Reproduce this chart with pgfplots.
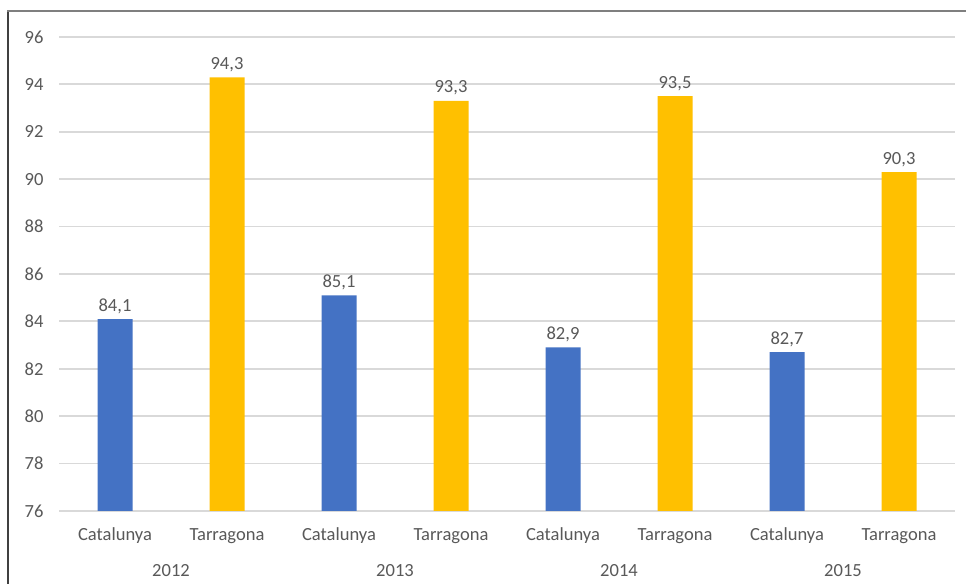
\documentclass[border=0pt]{standalone}
\usepackage{fontspec}
\setmainfont{Carlito}
\usepackage{pgfplots}
\pgfplotsset{compat=1.18}
\definecolor{catblue}{HTML}{4472C4}
\definecolor{targold}{HTML}{FFC000}
\definecolor{txt}{HTML}{595959}
\definecolor{gridc}{HTML}{D9D9D9}
\definecolor{framec}{HTML}{7F7F7F}
\definecolor{framel}{HTML}{404040}

\begin{document}
\begin{tikzpicture}
\useasboundingbox (0,0) rectangle (966bp,584bp);
\fill[white] (0,0) rectangle (966bp,584bp);
\begin{axis}[
  at={(59bp,73bp)}, anchor=south west,
  scale only axis, width=896bp, height=474bp,
  xmin=-0.5, xmax=7.5, ymin=76, ymax=96,
  enlargelimits=false,
  ytick={76,78,...,96},
  xtick={0,...,7},
  xticklabels={Catalunya,Tarragona,Catalunya,Tarragona,Catalunya,Tarragona,Catalunya,Tarragona},
  ymajorgrids, grid style={gridc, line width=1.8bp},
  axis line style={draw=none},
  major tick length=0pt,
  tick label style={font=\fontsize{18.6}{20}\selectfont, text=txt},
  xticklabel style={anchor=base, yshift=-29bp},
  yticklabel style={anchor=east, xshift=-12bp},
  /pgf/number format/assume math mode=true,
  ybar, bar width=35bp,
  clip mode=individual,
  nodes near coords,
  every node near coord/.append style={font=\fontsize{18.6}{20}\selectfont, text=txt, anchor=base, yshift=8bp, /pgf/number format/.cd, use comma, fixed, fixed zerofill, precision=1},
]
% Catalunya
\addplot[fill=catblue, draw=none, bar shift=0pt] coordinates {
  (0,84.1) (2,85.1) (4,82.9) (6,82.7)
};
% Tarragona
\addplot[fill=targold, draw=none, bar shift=0pt] coordinates {
  (1,94.3) (3,93.3) (5,93.5) (7,90.3)
};
\node[anchor=base, yshift=-65bp, font=\fontsize{18.6}{20}\selectfont, text=txt] at (axis cs:0.5,76) {2012};
\node[anchor=base, yshift=-65bp, font=\fontsize{18.6}{20}\selectfont, text=txt] at (axis cs:2.5,76) {2013};
\node[anchor=base, yshift=-65bp, font=\fontsize{18.6}{20}\selectfont, text=txt] at (axis cs:4.5,76) {2014};
\node[anchor=base, yshift=-65bp, font=\fontsize{18.6}{20}\selectfont, text=txt] at (axis cs:6.5,76) {2015};
\end{axis}
\draw[framel, line width=1.3bp] (8bp,-5bp) -- (8bp,573bp);
\draw[framec, line width=2bp] (7.35bp,573bp) -- (1000bp,573bp);
\end{tikzpicture}
\end{document}
